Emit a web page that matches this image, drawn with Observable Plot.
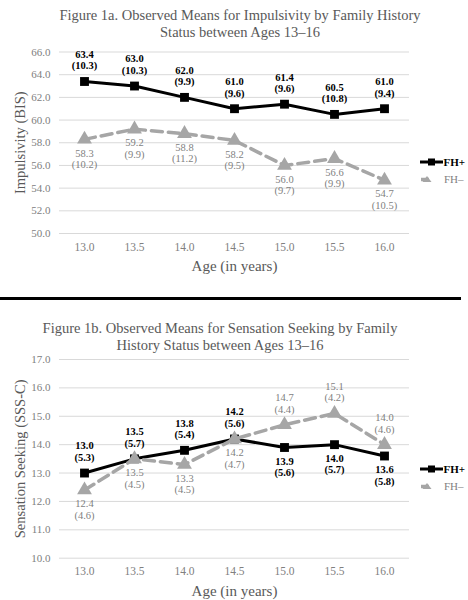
<!DOCTYPE html>
<html><head><meta charset="utf-8">
<script src="https://cdn.jsdelivr.net/npm/d3@7"></script>
<script src="https://cdn.jsdelivr.net/npm/@observablehq/plot@0.6"></script>
<style>
body{margin:0;background:#fff;font-family:"Liberation Serif","Times New Roman",serif;}
#page{position:relative;width:468px;height:600px;overflow:hidden;background:#fff;}
.title{position:absolute;left:0;text-align:center;color:#595959;font-size:14.5px;line-height:17px;white-space:nowrap;}
.abs{position:absolute;}
</style></head><body><div id="page"></div>
<script>
// ---- data ----
const ages = [13.0, 13.5, 14.0, 14.5, 15.0, 15.5, 16.0];
const impFHpMean = [63.4, 63.0, 62.0, 61.0, 61.4, 60.5, 61.0];
const impFHpSD   = [10.3, 10.3, 9.9, 9.6, 9.6, 10.8, 9.4];
const impFHmMean = [58.3, 59.2, 58.8, 58.2, 56.0, 56.6, 54.7];
const impFHmSD   = [10.2, 9.9, 11.2, 9.5, 9.7, 9.9, 10.5];
const ssFHpMean  = [13.0, 13.5, 13.8, 14.2, 13.9, 14.0, 13.6];
const ssFHpSD    = [5.3, 5.7, 5.4, 5.6, 5.6, 5.7, 5.8];
const ssFHmMean  = [12.4, 13.5, 13.3, 14.2, 14.7, 15.1, 14.0];
const ssFHmSD    = [4.6, 4.5, 4.5, 4.7, 4.4, 4.2, 4.6];
const impTicks = [50, 52, 54, 56, 58, 60, 62, 64, 66];
const ssTicks  = [10, 11, 12, 13, 14, 15, 16, 17];
const seriesNames = ["FH+", "FH–"];
const titleA = ["Figure 1a. Observed Means for Impulsivity by Family History", "Status between Ages 13–16"];
const titleB = ["Figure 1b. Observed Means for Sensation Seeking by Family", "History Status between Ages 13–16"];
const yTitleA = "Impulsivity (BIS)";
const yTitleB = "Sensation Seeking (SSS-C)";
const xTitle = "Age (in years)";
// label placement (layout only)
const impSideFHp = ["above","above","above","above","above","above","above"];
const impSideFHm = ["below","below","below","below","below","below","below"];
const ssSideFHp  = ["above","above","above","above","below","below","below"];
const ssSideFHm  = ["below","below","below","below","above","above","above"];

const fmt = d3.format(".1f");
const rows = (means, sds, sides) => ages.map((a, i) => ({age: a, mean: means[i], side: sides[i], label: fmt(means[i]) + "\n(" + fmt(sds[i]) + ")"}));

function labelMarks(data, style) {
  return [
    Plot.text(data.filter(d => d.side === "above"), {x: "age", y: "mean", text: "label", lineAnchor: "bottom", dy: -12, lineHeight: 1.1, fontSize: 10.5, ...style}),
    Plot.text(data.filter(d => d.side === "below"), {x: "age", y: "mean", text: "label", lineAnchor: "top", dy: 9, lineHeight: 1.1, fontSize: 10.5, ...style})
  ];
}

function chart({height, marginTop, marginBottom, domain, ticks, yTitle, plus, minus}) {
  return Plot.plot({
    width: 468, height, marginLeft: 59, marginRight: 59, marginTop, marginBottom,
    x: {domain: [12.75, 16.25]},
    y: {domain},
    style: {fontFamily: "'Liberation Serif', 'Times New Roman', serif", background: "transparent", overflow: "visible"},
    marks: [
      Plot.gridY(ticks, {stroke: "#d9d9d9", strokeOpacity: 1, strokeWidth: 1}),
      Plot.axisY(ticks, {tickFormat: fmt, tickSize: 0, tickPadding: 9, fontSize: 11, color: "#808080", label: null}),
      Plot.axisX(ages, {tickFormat: fmt, tickSize: 0, tickPadding: 9, fontSize: 11.5, color: "#808080", label: null}),
      Plot.text([yTitle], {frameAnchor: "left", dx: -39, rotate: -90, textAnchor: "middle", lineAnchor: "middle", fontSize: 14.5, fill: "#595959"}),
      Plot.text([xTitle], {frameAnchor: "bottom", dy: 33, textAnchor: "middle", lineAnchor: "middle", fontSize: 15, fill: "#595959"}),
      Plot.line(plus, {x: "age", y: "mean", stroke: "#000", strokeWidth: 3}),
      Plot.dot(plus, {x: "age", y: "mean", symbol: "square", r: 5, fill: "#000", stroke: "none"}),
      Plot.line(minus, {x: "age", y: "mean", stroke: "#a6a6a6", strokeWidth: 3.5, strokeDasharray: "11,6"}),
      Plot.dot(minus, {x: "age", y: "mean", symbol: "triangle", r: 5.5, fill: "#a6a6a6", stroke: "none"}),
      ...labelMarks(plus, {fill: "#000", fontWeight: "bold"}),
      ...labelMarks(minus, {fill: "#7f7f7f"})
    ]
  });
}

const page = document.getElementById("page");
function place(el, left, top) { el.classList.add("abs"); el.style.left = left + "px"; el.style.top = top + "px"; page.appendChild(el); return el; }
function title(lines, top, width) {
  const d = document.createElement("div");
  d.className = "title"; d.style.top = top + "px"; d.style.width = width + "px";
  d.innerHTML = lines.join("<br>");
  page.appendChild(d);
}
function legend(top) {
  const ns = "http://www.w3.org/2000/svg";
  const s = document.createElementNS(ns, "svg");
  s.setAttribute("width", 60); s.setAttribute("height", 34);
  s.innerHTML =
    `<line x1="0" x2="23" y1="8" y2="8" stroke="#000" stroke-width="3"/>` +
    `<rect x="8" y="4.5" width="7" height="7" fill="#000"/>` +
    `<text x="23.5" y="8" dy="0.35em" font-size="11" font-weight="bold" fill="#000" font-family="Liberation Serif">${seriesNames[0]}</text>` +
    `<line x1="1" x2="9" y1="25.5" y2="25.5" stroke="#a6a6a6" stroke-width="3.5"/>` +
    `<polygon points="7,22 11.5,28 2.5,28" fill="#a6a6a6"/>` +
    `<text x="24" y="25.5" dy="0.35em" font-size="11" fill="#7f7f7f" font-family="Liberation Serif">${seriesNames[1]}</text>`;
  place(s, 420, top);
}

title(titleA, 6.5, 480);
place(chart({height: 240, marginTop: 11.5, marginBottom: 47, domain: [50, 66], ticks: impTicks, yTitle: yTitleA,
  plus: rows(impFHpMean, impFHpSD, impSideFHp), minus: rows(impFHmMean, impFHmSD, impSideFHm)}), 0, 40);
legend(153.5);

const sep = document.createElement("div");
sep.style.cssText = "width:461px;height:3px;background:#000;";
place(sep, 0, 297);

title(titleB, 319.5, 440);
place(chart({height: 250, marginTop: 9, marginBottom: 42.3, domain: [10, 17], ticks: ssTicks, yTitle: yTitleB,
  plus: rows(ssFHpMean, ssFHpSD, ssSideFHp), minus: rows(ssFHmMean, ssFHmSD, ssSideFHm)}), 0, 350);
legend(461);
</script></body></html>
